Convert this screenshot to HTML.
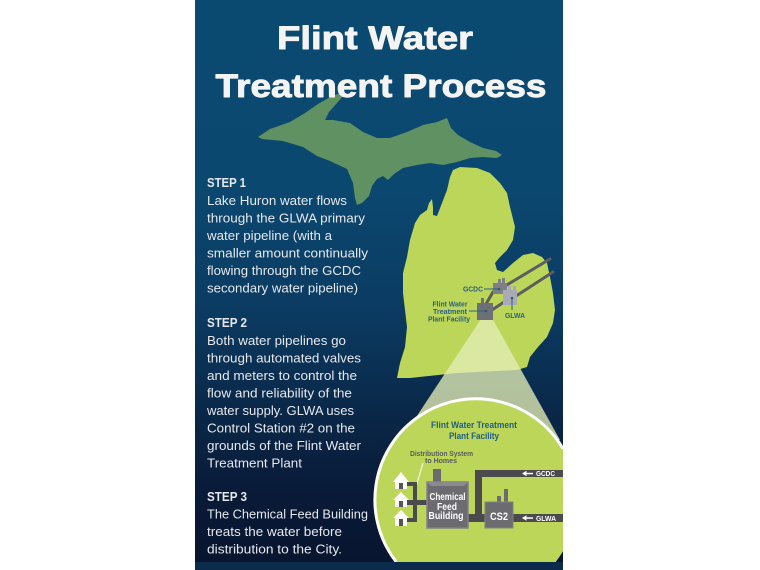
<!DOCTYPE html>
<html>
<head>
<meta charset="utf-8">
<style>
  html,body{margin:0;padding:0;background:#ffffff;width:760px;height:570px;overflow:hidden;}
  svg{display:block;}
  .t{font-family:"Liberation Sans",Arial,sans-serif;}
</style>
</head>
<body>
<svg width="760" height="570" viewBox="0 0 760 570" xmlns="http://www.w3.org/2000/svg">
  <defs>
    <linearGradient id="bg" x1="0" y1="0" x2="0" y2="1">
      <stop offset="0" stop-color="#0b4a70"/>
      <stop offset="0.33" stop-color="#0b4870"/>
      <stop offset="0.55" stop-color="#0b3b62"/>
      <stop offset="0.75" stop-color="#0a2646"/>
      <stop offset="0.88" stop-color="#091a38"/>
      <stop offset="1" stop-color="#08152f"/>
    </linearGradient>
  </defs>

  <rect x="0" y="0" width="760" height="570" fill="#ffffff"/>
  <rect x="195" y="0" width="368" height="562" fill="url(#bg)"/>

  <!-- Upper peninsula -->
  <path fill="#5f9163" d="M258,137 L270,129 L290,122 L305,113 L318,104 L332,96 L341,93 L343,96 L337,103 L329,112 L325,120 L333,120 L350,123 L363,132 L377,138 L390,138 L407,132 L423,125 L437,122 L447,118 L451,128 L458,135 L470,142 L483,148 L496,151 L502,155 L497,158 L483,157 L470,158 L457,162 L443,165 L430,163 L417,165 L403,168 L394,174 L388,180 L383,176 L377,179 L372,186 L369,196 L362,203 L357,205 L355,198 L353,183 L347,169 L330,161 L317,156 L303,147 L283,141 L262,139 Z"/>
  <!-- Lower peninsula -->
  <path fill="#bcd65a" d="M397,378 L400,363 L405,347 L407,327 L405,310 L403,293 L403,273 L407,257 L410,240 L415,223 L420,215 L427,210 L429,203 L432,199 L433,207 L433,215 L437,216 L442,203 L447,190 L450,177 L453,170 L460,167 L477,168 L490,173 L500,183 L507,193 L510,207 L515,227 L513,240 L507,250 L500,257 L495,263 L497,270 L503,272 L513,263 L523,255 L533,253 L542,257 L547,263 L550,277 L553,293 L555,310 L553,323 L547,337 L538,347 L530,357 L527,367 L517,370 L457,373 L410,378 Z"/>

  <!-- beam -->
  <polygon points="483,316 491,316 560,440 401,440" fill="rgb(227,237,181)" fill-opacity="0.78"/>

  <!-- map pipes -->
  <g stroke="#5d5d60" stroke-width="3" stroke-linecap="round">
    <line x1="550" y1="259" x2="505" y2="286"/>
    <line x1="553" y1="272" x2="516" y2="296"/>
    <line x1="493" y1="292" x2="486" y2="304"/>
    <line x1="504" y1="302" x2="492" y2="310"/>
  </g>
  <!-- map buildings -->
  <rect x="498" y="279" width="3" height="5" fill="#7f7f84"/>
  <rect x="502" y="278" width="3" height="6" fill="#7f7f84"/>
  <rect x="493" y="283" width="14" height="11" fill="#7f7f84"/>
  <rect x="508" y="286" width="3" height="5" fill="#a9aab6"/>
  <rect x="513" y="286" width="3" height="5" fill="#a9aab6"/>
  <rect x="503" y="290" width="14" height="15" fill="#a9aab6"/>
  <rect x="481" y="298" width="3" height="6" fill="#6f6f76"/>
  <rect x="477" y="303" width="16" height="17" fill="#6f6f76"/>

  <!-- map leaders -->
  <g stroke="#2b5f80" stroke-width="1">
    <line x1="484" y1="289" x2="499" y2="289"/>
    <line x1="512" y1="298" x2="512" y2="310"/>
    <line x1="469" y1="311" x2="486" y2="311"/>
  </g>
  <circle cx="499" cy="289" r="1.3" fill="#2b5f80"/>
  <circle cx="512" cy="298" r="1.3" fill="#2b5f80"/>
  <circle cx="486" cy="311" r="1.3" fill="#2b5f80"/>
  <g class="t" font-weight="bold" font-size="7" fill="#2b5f80">
    <text x="483" y="291.5" text-anchor="end" textLength="20" lengthAdjust="spacingAndGlyphs">GCDC</text>
    <text x="515" y="318" text-anchor="middle" textLength="20" lengthAdjust="spacingAndGlyphs">GLWA</text>
    <text x="450" y="306.5" text-anchor="middle" textLength="35" lengthAdjust="spacingAndGlyphs">Flint Water</text>
    <text x="450" y="314" text-anchor="middle" textLength="34" lengthAdjust="spacingAndGlyphs">Treatment</text>
    <text x="449" y="321.5" text-anchor="middle" textLength="42" lengthAdjust="spacingAndGlyphs">Plant Facility</text>
  </g>

  <!-- big circle (pre-clipped to panel) -->
  <path d="M563,448.7 A101,101 0 1 0 396.3,562 L555.7,562 A101,101 0 0 0 563,551.3 Z" fill="#bcd65a"/>
  <path d="M563,448.7 A101,101 0 1 0 396.3,562" fill="none" stroke="#ffffff" stroke-width="3"/>

  <g class="t" font-weight="bold">
    <text x="474" y="428" font-size="9" fill="#1f5e80" text-anchor="middle" textLength="86" lengthAdjust="spacingAndGlyphs">Flint Water Treatment</text>
    <text x="474" y="439" font-size="9" fill="#1f5e80" text-anchor="middle" textLength="50" lengthAdjust="spacingAndGlyphs">Plant Facility</text>
    <text x="441.5" y="456" font-size="7" fill="#5a5a5a" text-anchor="middle" textLength="63" lengthAdjust="spacingAndGlyphs">Distribution System</text>
    <text x="441" y="463" font-size="7" fill="#5a5a5a" text-anchor="middle" textLength="32" lengthAdjust="spacingAndGlyphs">to Homes</text>
  </g>

  <!-- leader white -->
  <line x1="423" y1="463" x2="415" y2="490" stroke="#ffffff" stroke-width="1"/>

  <!-- pipes in circle -->
  <g fill="#4b4b4e">
    <rect x="475" y="470" width="88" height="7"/>
    <rect x="475" y="470" width="7" height="52"/>
    <rect x="466" y="514" width="20" height="8"/>
    <rect x="512" y="514" width="51" height="8"/>
    <rect x="407" y="482" width="10" height="4"/>
    <rect x="407" y="500" width="22" height="5"/>
    <rect x="407" y="518" width="10" height="4"/>
    <rect x="413" y="482" width="4" height="40"/>
  </g>

  <!-- houses -->
  <g fill="#ffffff">
    <polygon points="393,482 401,472 409,482"/>
    <rect x="395" y="481" width="12" height="8"/>
    <polygon points="393,500 401,492 409,500"/>
    <rect x="395" y="499" width="12" height="8"/>
    <polygon points="393,518 401,510 409,518"/>
    <rect x="395" y="517" width="12" height="9"/>
  </g>
  <g fill="#555559">
    <rect x="399" y="483" width="4" height="6"/>
    <rect x="399" y="501" width="4" height="6"/>
    <rect x="399" y="519" width="4" height="7"/>
  </g>

  <!-- Chemical Feed Building -->
  <rect x="433" y="469" width="8" height="14" fill="#6b6b70"/>
  <rect x="427" y="482" width="41" height="46" fill="#6b6b70" stroke="#818186" stroke-width="1.5"/>
  <polygon points="427,482 468,482 464,486 431,486" fill="#8a8a8f"/>
  <g class="t" font-weight="bold" fill="#ffffff" text-anchor="middle">
    <text x="447.5" y="500" font-size="10" textLength="36" lengthAdjust="spacingAndGlyphs">Chemical</text>
    <text x="447" y="510" font-size="10" textLength="20" lengthAdjust="spacingAndGlyphs">Feed</text>
    <text x="446" y="519" font-size="10" textLength="35" lengthAdjust="spacingAndGlyphs">Building</text>
  </g>

  <!-- CS2 -->
  <rect x="497" y="496" width="4" height="7" fill="#6b6b70"/>
  <rect x="504" y="489" width="4" height="14" fill="#6b6b70"/>
  <rect x="485" y="502" width="28" height="26" fill="#6b6b70" stroke="#818186" stroke-width="1"/>
  <text class="t" x="499" y="520" font-size="11" font-weight="bold" fill="#ffffff" text-anchor="middle" textLength="18" lengthAdjust="spacingAndGlyphs">CS2</text>

  <!-- arrow labels -->
  <polygon points="522,473.5 526.5,470.8 526.5,476.2" fill="#ffffff"/>
  <rect x="525" y="472.8" width="8" height="1.5" fill="#ffffff"/>
  <text class="t" x="536" y="476" font-size="7" font-weight="bold" fill="#ffffff" textLength="19" lengthAdjust="spacingAndGlyphs">GCDC</text>
  <polygon points="522,518 526.5,515.3 526.5,520.7" fill="#ffffff"/>
  <rect x="525" y="517.3" width="8" height="1.5" fill="#ffffff"/>
  <text class="t" x="536" y="521" font-size="7" font-weight="bold" fill="#ffffff" textLength="20" lengthAdjust="spacingAndGlyphs">GLWA</text>

  <!-- bottom strip -->
  <rect x="195" y="562" width="368" height="8" fill="#0b2b4c"/>

  <!-- Title -->
  <g class="t" font-weight="bold" font-size="32" fill="#f4f4f4" stroke="#f4f4f4" stroke-width="0.9" stroke-linejoin="round" text-anchor="middle">
    <text x="375" y="49" textLength="196" lengthAdjust="spacingAndGlyphs">Flint Water</text>
    <text x="381" y="97" textLength="331" lengthAdjust="spacingAndGlyphs">Treatment Process</text>
  </g>

  <!-- Body text -->
  <g class="t" font-size="13" fill="#e6e8ec">
    <text x="207" y="187" font-weight="bold" textLength="39" lengthAdjust="spacingAndGlyphs">STEP 1</text>
    <text x="207" y="205" textLength="140" lengthAdjust="spacingAndGlyphs">Lake Huron water flows</text>
    <text x="207" y="222.5" textLength="158" lengthAdjust="spacingAndGlyphs">through the GLWA primary</text>
    <text x="207" y="240" textLength="125" lengthAdjust="spacingAndGlyphs">water pipeline (with a</text>
    <text x="207" y="257.5" textLength="161" lengthAdjust="spacingAndGlyphs">smaller amount continually</text>
    <text x="207" y="275" textLength="154" lengthAdjust="spacingAndGlyphs">flowing through the GCDC</text>
    <text x="207" y="292.5" textLength="151" lengthAdjust="spacingAndGlyphs">secondary water pipeline)</text>

    <text x="207" y="327" font-weight="bold" textLength="40" lengthAdjust="spacingAndGlyphs">STEP 2</text>
    <text x="207" y="345" textLength="139" lengthAdjust="spacingAndGlyphs">Both water pipelines go</text>
    <text x="207" y="362.5" textLength="154" lengthAdjust="spacingAndGlyphs">through automated valves</text>
    <text x="207" y="380" textLength="150" lengthAdjust="spacingAndGlyphs">and meters to control the</text>
    <text x="207" y="397.5" textLength="145" lengthAdjust="spacingAndGlyphs">flow and reliability of the</text>
    <text x="207" y="415" textLength="147" lengthAdjust="spacingAndGlyphs">water supply. GLWA uses</text>
    <text x="207" y="432.5" textLength="148" lengthAdjust="spacingAndGlyphs">Control Station #2 on the</text>
    <text x="207" y="450" textLength="154" lengthAdjust="spacingAndGlyphs">grounds of the Flint Water</text>
    <text x="207" y="467.5" textLength="95" lengthAdjust="spacingAndGlyphs">Treatment Plant</text>

    <text x="207" y="501" font-weight="bold" textLength="40" lengthAdjust="spacingAndGlyphs">STEP 3</text>
    <text x="207" y="518.5" textLength="161" lengthAdjust="spacingAndGlyphs">The Chemical Feed Building</text>
    <text x="207" y="536" textLength="135" lengthAdjust="spacingAndGlyphs">treats the water before</text>
    <text x="207" y="553.5" textLength="135" lengthAdjust="spacingAndGlyphs">distribution to the City.</text>
  </g>
</svg>
</body>
</html>
